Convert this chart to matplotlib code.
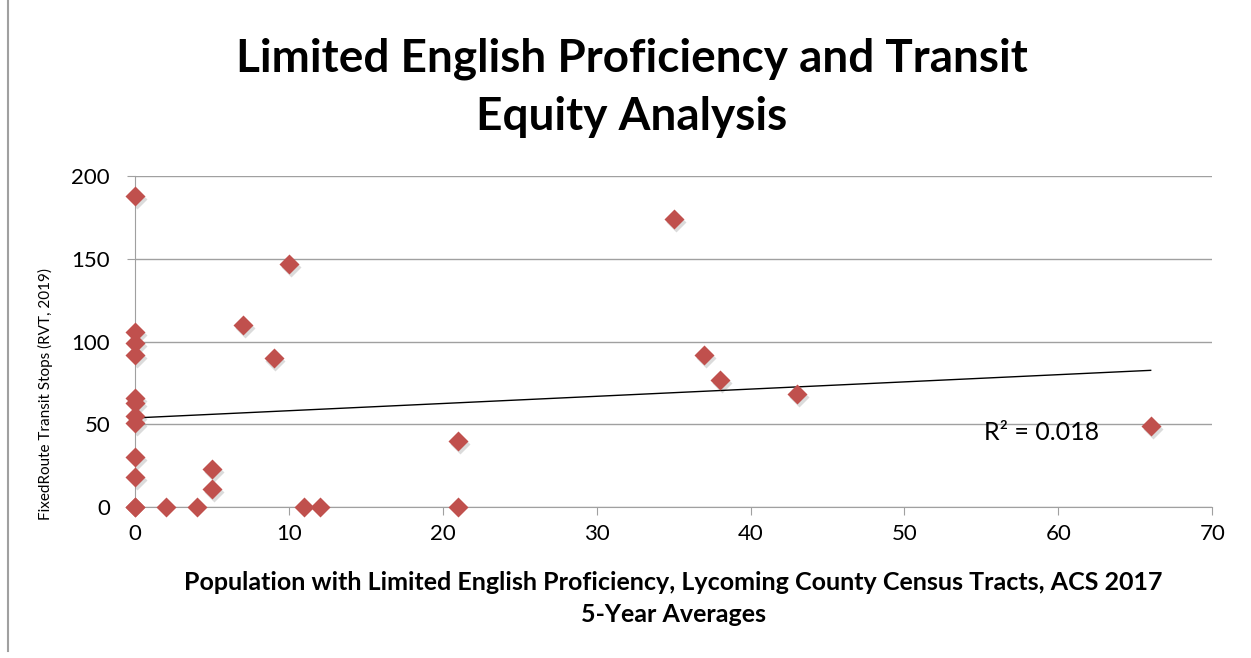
import numpy as np
import matplotlib.pyplot as plt
from matplotlib.lines import Line2D

# LEP population per tract vs fixed route stops
lep_pop = [0, 0, 0, 0, 0, 0, 0, 0, 0, 0, 0, 0,
           2, 4, 5, 5, 7, 9, 10, 11, 12, 21, 21, 35, 37, 38, 43, 66]
stops = [188, 106, 99, 92, 66, 63, 55, 51, 30, 18, 0, 0,
         0, 0, 23, 11, 110, 90, 147, 0, 0, 40, 0, 174, 92, 77, 68, 49]

x_ticks = [0, 10, 20, 30, 40, 50, 60, 70]
y_ticks = [0, 50, 100, 150, 200]
r2_text = 'R² = 0.018'

title = 'Limited English Proficiency and Transit\nEquity Analysis'
xlab = ('Population with Limited English Proficiency, Lycoming County Census Tracts, ACS 2017\n'
        '5-Year Averages')
ylab = 'FixedRoute Transit Stops (RVT, 2019)'

plt.rcParams['font.family'] = ['Lato', 'DejaVu Sans']

fig = plt.figure(figsize=(12.51, 6.58), dpi=100)
ax = fig.add_axes([0.108, 0.2295, 0.861, 0.503])

x = np.array(lep_pop, dtype=float)
y = np.array(stops, dtype=float)

# shadow then markers
ax.plot(x + 0.12, y - 1.8, 'D', ms=10.5, color='#999999', alpha=0.35, mec='none', zorder=3)
ax.plot(x, y, 'D', ms=10.5, color='#C0504D', mec='none', zorder=4, clip_on=False)

# linear trendline
k, b = np.polyfit(x, y, 1)
xs = np.array([0, x.max()])
ax.plot(xs, k * xs + b, color='black', lw=1, zorder=3)
ax.text(55.2, 45, r2_text, fontsize=18, va='center', ha='left')

ax.set_xlim(0, 70)
ax.set_ylim(0, 200)
ax.set_xticks(x_ticks)
ax.set_yticks(y_ticks)
ax.grid(axis='y', color='#A0A0A0', lw=1)
ax.set_axisbelow(True)
for s in ['top', 'right']:
    ax.spines[s].set_visible(False)
for s in ['left', 'bottom']:
    ax.spines[s].set_color('#A0A0A0')
ax.tick_params(axis='both', colors='#A0A0A0', labelcolor='black', labelsize=16, length=6)
ax.tick_params(axis='x', pad=6)
ax.tick_params(axis='y', pad=12)

ax.set_xlabel(xlab, fontsize=18, fontweight='bold', labelpad=20, linespacing=1.45)
ax.set_ylabel(ylab, fontsize=11)
ax.yaxis.set_label_coords(-0.076, 0.34)

fig.text(0.505, 0.943, title, fontsize=33, fontweight='bold', ha='center', va='top',
         linespacing=1.47)

fig.add_artist(Line2D([0.006, 0.006], [0.01, 1.0], color='#A0A0A0', lw=1.5))

fig.savefig('out.png', dpi=100)
